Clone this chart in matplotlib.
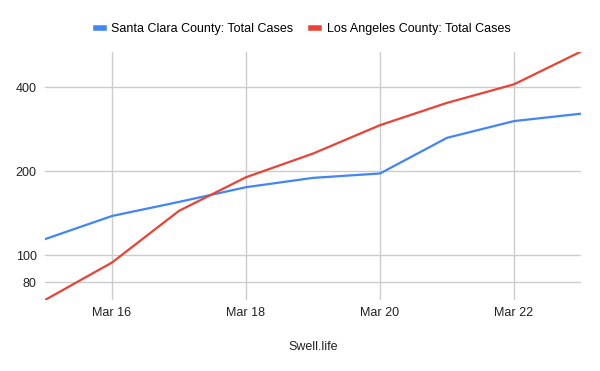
import pandas as pd
import matplotlib.pyplot as plt
import matplotlib.dates as mdates
from matplotlib.lines import Line2D

plt.rcParams['font.family'] = ['Liberation Sans', 'DejaVu Sans']

# data
dates = pd.to_datetime(["2020-03-15", "2020-03-16", "2020-03-17", "2020-03-18", "2020-03-19",
                        "2020-03-20", "2020-03-21", "2020-03-22", "2020-03-23"])
santa_clara = [114, 138, 155, 175, 189, 196, 263, 302, 321]
los_angeles = [69, 94, 144, 190, 231, 292, 351, 409, 536]

blue = '#4285F4'
red = '#EA4335'

fig = plt.figure(figsize=(6, 3.71), dpi=100)
ax = fig.add_axes([0.075, 0.1914, 0.8933, 0.6684])
ax.plot(dates, santa_clara, color=blue, lw=1.6, label='Santa Clara County: Total Cases')
ax.plot(dates, los_angeles, color=red, lw=1.6, label='Los Angeles County: Total Cases')

ax.set_yscale('log')
ax.set_ylim(69, 534)
ax.set_yticks([80, 100, 200, 400])
ax.set_yticklabels(['80', '100', '200', '400'])
ax.minorticks_off()
ax.set_xlim(dates[0], dates[-1])
ax.set_xticks(dates[1::2])
ax.xaxis.set_major_formatter(mdates.DateFormatter('%b %-d'))

ax.grid(True, color='#cccccc', lw=1)
ax.set_axisbelow(True)
for s in ax.spines.values():
    s.set_visible(False)
ax.tick_params(length=0, labelsize=9, colors='#222222', pad=5)
ax.tick_params(axis='y', pad=6)

ax.set_xlabel('Swell.life', fontsize=9, color='#222222', labelpad=16)

handles = [Line2D([], [], color=blue, lw=4), Line2D([], [], color=red, lw=4)]
fig.legend(handles, ['Santa Clara County: Total Cases', 'Los Angeles County: Total Cases'],
           loc='center', bbox_to_anchor=(0.505, 0.922), ncol=2, frameon=False,
           fontsize=9, handlelength=0.65, handletextpad=0.6, columnspacing=1.4)

plt.savefig('out.png', dpi=100)
plt.close()
